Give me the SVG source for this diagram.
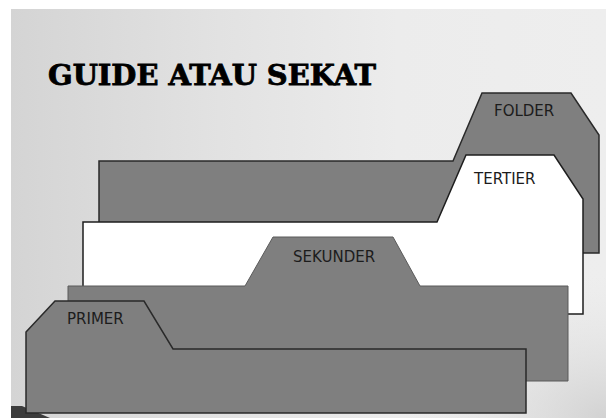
<svg xmlns="http://www.w3.org/2000/svg" width="606" height="418" viewBox="0 0 606 418">
  <defs>
    <linearGradient id="bg" x1="0" y1="0" x2="1" y2="0">
      <stop offset="0" stop-color="#d4d4d4"/>
      <stop offset="0.35" stop-color="#e2e2e2"/>
      <stop offset="0.65" stop-color="#ececec"/>
      <stop offset="1" stop-color="#eeeeee"/>
    </linearGradient>
    <radialGradient id="corner" cx="1" cy="1" r="0.35">
      <stop offset="0" stop-color="#d2d2d2"/>
      <stop offset="1" stop-color="#e6e6e6" stop-opacity="0"/>
    </radialGradient>
  </defs>
  <style>
    .tab { fill: #7f7f7f; stroke: #2a2a2a; stroke-width: 1.5; stroke-linejoin: miter; }
    .tab-light { fill: #7f7f7f; stroke: #5a5a5a; stroke-width: 1; }
    .white { fill: #ffffff; stroke: #1e1e1e; stroke-width: 1.5; }
    .label { font-family: "DejaVu Sans", Verdana, sans-serif; font-size: 15px; fill: #1c1c1c; }
    .title { font-family: "DejaVu Serif", "Liberation Serif", serif; font-weight: bold; font-size: 27px; fill: #000; stroke: #000; stroke-width: 0.8; }
  </style>

  <rect x="0" y="0" width="606" height="418" fill="#ffffff"/>
  <rect x="11" y="9" width="595" height="409" fill="url(#bg)"/>
  <rect x="11" y="9" width="595" height="409" fill="url(#corner)"/>
  <polygon points="11,406 22,406 50,418 11,418" fill="#3c3c3c"/>

  <text class="title" x="48" y="85" textLength="328" lengthAdjust="spacingAndGlyphs">GUIDE ATAU SEKAT</text>

  <g id="folder">
    <polygon class="tab" points="99,161 453,161 482,93 571,93 599,135 599,253 99,253"/>
    <text class="label" x="494" y="116">FOLDER</text>
  </g>

  <g id="tertier">
    <polygon class="white" points="83,222 437,222 466,155 554,155 583,199 583,314 83,314"/>
    <text class="label" x="474" y="184">TERTIER</text>
  </g>

  <g id="sekunder">
    <polygon class="tab-light" points="68,286 245,286 273,237 393,237 420,286 568,286 568,381 68,381"/>
    <text class="label" x="293" y="262">SEKUNDER</text>
  </g>

  <g id="primer">
    <polygon class="tab" points="26,332 55,301 144,301 173,349 526,349 526,413 26,413"/>
    <text class="label" x="67" y="324">PRIMER</text>
  </g>
</svg>
